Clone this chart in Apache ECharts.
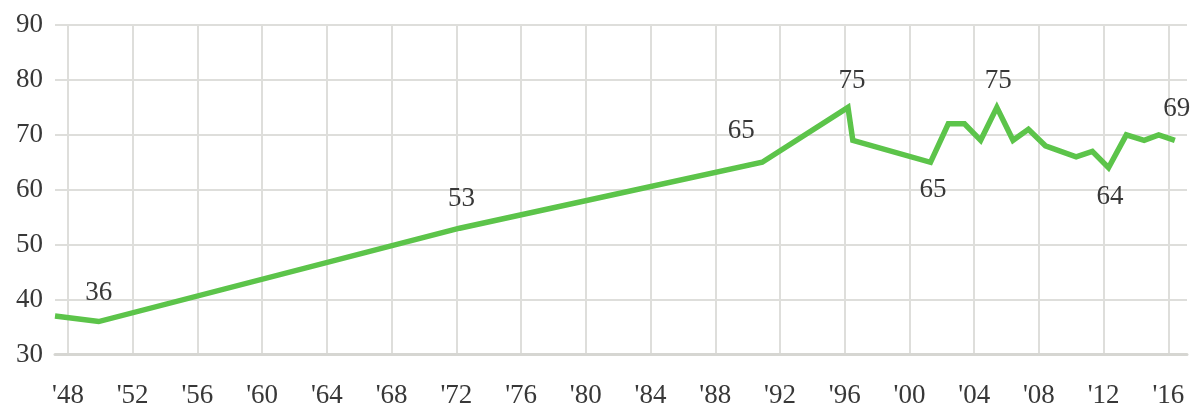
<!DOCTYPE html>
<html>
<head>
<meta charset="utf-8">
<script src="https://cdn.jsdelivr.net/npm/echarts@6/dist/echarts.min.js"></script>
<style>
html,body{margin:0;padding:0;background:#fff;}
#chart{width:1200px;height:412px;}
</style>
</head>
<body>
<div id="chart"></div>
<script>
// Data
const years  = [1947.2, 1949.9, 1972.2, 1990.9, 1996.2, 1996.5, 2001.3, 2002.4, 2003.4, 2004.4, 2005.4, 2006.4, 2007.35, 2008.4, 2010.3, 2011.3, 2012.3, 2013.4, 2014.5, 2015.4, 2016.4];
const values = [37, 36, 53, 65, 75, 69, 65, 72, 72, 69, 75, 69, 71, 68, 66, 67, 64, 70, 69, 70, 69];
const tickYears  = [1948, 1952, 1956, 1960, 1964, 1968, 1972, 1976, 1980, 1984, 1988, 1992, 1996, 2000, 2004, 2008, 2012, 2016];
const tickLabels = ["'48", "'52", "'56", "'60", "'64", "'68", "'72", "'76", "'80", "'84", "'88", "'92", "'96", "'00", "'04", "'08", "'12", "'16"];
const labelledPoints = [1, 2, 3, 4, 6, 10, 16, 20];

// label placement (style, not data)
const labelSide = {1: 'top', 2: 'top', 3: 'top', 4: 'top', 6: 'bottom', 10: 'top', 16: 'bottom', 20: 'top'};
const labelShift = {1: [0, -5], 2: [2, -5.5], 3: [-21, -7.5], 4: [4, -3], 6: [2.5, 4], 10: [1.5, -3], 16: [1.5, 5], 20: [2, -7.5]};

const FONT = 'Liberation Serif';
const seriesData = years.map((y, i) => {
  const item = {value: [y, values[i]]};
  if (labelledPoints.includes(i)) {
    item.label = {show: true, position: labelSide[i], distance: 10,
      formatter: String(values[i]), fontFamily: FONT, fontSize: 27, color: '#383838'};
  }
  return item;
});

const chart = echarts.init(document.getElementById('chart'), null, {renderer: 'canvas'});
chart.setOption({
  animation: false,
  backgroundColor: '#ffffff',
  grid: {left: 55, right: 13, top: 25, bottom: 57.5, containLabel: false},
  xAxis: {
    type: 'value',
    min: 1947.2,
    max: 2017.15,
    axisLine: {show: true, lineStyle: {color: '#d6d6d2', width: 3}},
    axisTick: {show: false, customValues: tickYears},
    axisLabel: {
      customValues: tickYears,
      margin: 28,
      fontFamily: FONT, fontSize: 27, color: '#383838',
      formatter: (v) => tickLabels[tickYears.indexOf(Math.round(v))] || ''
    },
    splitLine: {show: true, lineStyle: {color: '#dededb', width: 2}}
  },
  yAxis: {
    type: 'value',
    min: 30, max: 90, interval: 10,
    axisLine: {show: false},
    axisTick: {show: false},
    axisLabel: {margin: 12, fontFamily: FONT, fontSize: 27, color: '#383838'},
    splitLine: {show: true, lineStyle: {color: '#dededb', width: 2}}
  },
  series: [{
    type: 'line',
    data: seriesData,
    showSymbol: true,
    symbol: 'circle',
    symbolSize: 0.5,
    itemStyle: {color: 'rgba(0,0,0,0)', borderWidth: 0},
    lineStyle: {color: '#5cc44a', width: 5.5, join: 'miter', cap: 'butt'},
    label: {show: false},
    labelLayout: function (params) {
      const s = labelShift[params.dataIndex];
      return s ? {dx: s[0], dy: s[1], hideOverlap: false} : {};
    },
    z: 5
  }]
});
</script>
</body>
</html>
